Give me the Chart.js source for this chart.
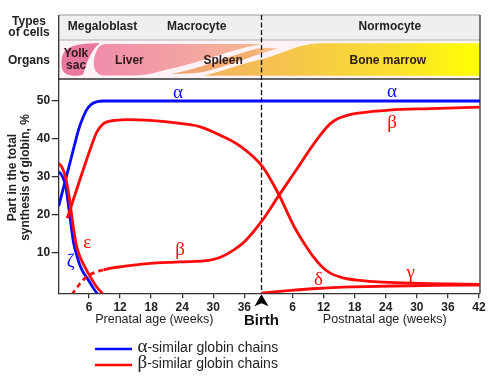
<!DOCTYPE html>
<html>
<head>
<meta charset="utf-8">
<script src="https://cdn.jsdelivr.net/npm/chart.js@4.4.1/dist/chart.umd.min.js"></script>
<style>
html,body{margin:0;padding:0;background:#fff;}
canvas{display:block;}
</style>
</head>
<body>
<canvas id="chart" width="500" height="382"></canvas>
<script>
// ---------------- data (x = age in weeks counted from conception, birth at BIRTH) ----------------
const BIRTH = 39.3;
const prenatalTickLabels = [6, 12, 18, 24, 30, 36];
const postnatalTickLabels = [6, 12, 18, 24, 30, 36, 42];
const yTickValues = [10, 20, 30, 40, 50];

const alphaAge = [0.15, 1, 2, 3, 4, 4.8, 5.6, 6.5, 7.5, 8.8, 10, 40, 81.5];
const alphaPct = [22.3, 26.8, 32, 37.3, 42.5, 45.5, 47.8, 49.2, 49.8, 50, 50, 50, 50];

const zetaAge = [0.15, 0.8, 1.5, 2.2, 3.0, 3.6, 4.3, 5.0, 5.9, 6.8, 7.7];
const zetaPct = [31.4, 30.3, 27.5, 20.8, 12.8, 9.5, 6.5, 4.6, 2.8, 0.8, -1];

const epsilonAge = [0.15, 0.8, 1.5, 2.2, 3.0, 3.6, 4.3, 5.2, 6.2, 7.5, 8.8];
const epsilonPct = [33.6, 32.5, 29.8, 24.5, 16.5, 11.8, 8.8, 6.3, 3.8, 1.0, -1];

const gammaAge = [1.8, 3, 4.3, 5.5, 6.5, 7.5, 8.5, 9.5, 11, 13.5, 17.8, 23.6, 27.5, 31.3, 35.3, 39.5, 42.6, 45.5, 47.5, 49.3, 50.8, 52.5, 55, 57.7, 64, 72, 81.5];
const gammaPct = [19.1, 24.1, 29.5, 34.4, 38.3, 41.8, 43.7, 44.5, 44.9, 45.1, 44.9, 44.1, 43.2, 41, 38, 32.7, 25.5, 17.2, 12.6, 9.0, 6.6, 4.7, 3.4, 2.8, 2.2, 1.9, 1.7];

const betaEarlyAge = [2.7, 4.26, 5.56, 7.5, 8.8];
const betaEarlyPct = [-1, 1.9, 3.7, 5.0, 5.5];

const betaAge = [8.8, 10.5, 12, 15, 17.8, 23.6, 29.4, 31.5, 33.9, 36, 39.5, 42.6, 46, 49, 51, 52.5, 54, 56, 58, 64, 72, 81.5];
const betaPct = [5.5, 6.0, 6.3, 6.8, 7.2, 7.6, 8.1, 8.9, 10.7, 12.9, 18.6, 25.0, 31.8, 37.9, 41.6, 43.9, 45.3, 46.3, 46.8, 47.6, 48, 48.4];

const deltaAge = [39.3, 45, 50, 57, 65, 73, 81.5];
const deltaPct = [-0.6, 0.1, 0.6, 1.0, 1.25, 1.4, 1.5];

const greekText  = ['α', 'α', 'β', 'β', 'ε', 'ζ', 'γ', 'δ'];
const greekAge   = [23.2, 64.5, 64.5, 23.6, 5.67, 2.47, 68.1, 50.3];
const greekPct   = [52.2, 52.5, 44.1, 10.7, 12.5, 7.6, 4.7, 2.8];
const greekIsAlphaFamily = [true, true, false, false, false, true, false, false];

const cellTypes = ['Megaloblast', 'Macrocyte', 'Normocyte'];
const cellTypeAge = [8.6, 26.8, 64.1];
const organNames = ['Liver', 'Spleen', 'Bone marrow'];
const organAge = [13.8, 31.9, 63.7];

const legendLabels = ['-similar globin chains', '-similar globin chains'];
const legendGreek = ['α', 'β'];

// ---------------- styles ----------------
const BLUE = '#0a0aff';
const RED = '#ff0a0a';
const AXIS = '#333333';
const TXT = '#222222';
const SANS = '"Liberation Sans", Arial, sans-serif';
const SERIF = '"Liberation Serif", "Times New Roman", serif';

const xTickValues = prenatalTickLabels.concat(postnatalTickLabels.map(w => BIRTH + w));
const xTickLabels = prenatalTickLabels.concat(postnatalTickLabels).map(String);

function pts(ax, ay) { return ax.map((a, i) => ({x: a, y: ay[i]})); }
function ds(ax, ay, color, dash) {
  return {data: pts(ax, ay), borderColor: color, backgroundColor: color, borderWidth: 2.8,
          pointRadius: 0, fill: false, cubicInterpolationMode: 'monotone', borderDash: dash || [],
          borderCapStyle: 'butt'};
}

const decor = {
  id: 'decor',
  beforeDraw(chart) {
    const ctx = chart.ctx, ca = chart.chartArea, xs = chart.scales.x;
    const X = v => xs.getPixelForValue(v);
    const L = ca.left, R = ca.right;
    const T1 = 15, T2 = 40, T3 = ca.top;
    ctx.save();
    ctx.fillStyle = '#fff';
    ctx.fillRect(0, 0, chart.width, chart.height);
    ctx.fillStyle = '#efefef';
    ctx.fillRect(L, T1, R - L, T2 - T1);
    ctx.fillStyle = '#fdf3f6';
    ctx.fillRect(L, T2, R - L, T3 - T2);

    // bone marrow
    let g = ctx.createLinearGradient(X(26), 0, X(81.5), 0);
    g.addColorStop(0, '#f1b266');
    g.addColorStop(0.3, '#f5c24e');
    g.addColorStop(0.7, '#f9df30');
    g.addColorStop(1, '#ffff00');
    ctx.beginPath();
    ctx.moveTo(X(26.5), 76.5);
    ctx.lineTo(X(81.5), 76.5);
    ctx.lineTo(X(81.5), 42.5);
    ctx.lineTo(X(50.6), 42.5);
    ctx.bezierCurveTo(X(46), 42.5, X(43), 55, X(38.1), 60);
    ctx.bezierCurveTo(X(34), 65, X(30), 74, X(26.5), 76.5);
    ctx.closePath();
    ctx.fillStyle = g; ctx.fill();
    ctx.strokeStyle = '#fdf3f6'; ctx.lineWidth = 1.6; ctx.stroke();

    // spleen
    g = ctx.createLinearGradient(X(20), 0, X(43.5), 0);
    g.addColorStop(0, '#f0a276');
    g.addColorStop(0.7, '#f3ae6c');
    g.addColorStop(1, '#f7cba0');
    ctx.beginPath();
    ctx.moveTo(X(20.3), 74);
    ctx.bezierCurveTo(X(26), 71, X(33), 55, X(38.6), 47.5);
    ctx.quadraticCurveTo(X(41), 46, X(43.4), 48.5);
    ctx.bezierCurveTo(X(39), 53, X(34), 66, X(28), 73);
    ctx.quadraticCurveTo(X(25), 75.8, X(20.3), 74);
    ctx.closePath();
    ctx.fillStyle = g; ctx.fill();
    ctx.lineWidth = 1.8; ctx.stroke();

    // liver
    g = ctx.createLinearGradient(X(7), 0, X(41.5), 0);
    g.addColorStop(0, '#f08cab');
    g.addColorStop(0.45, '#f3a0a4');
    g.addColorStop(1, '#f6bd90');
    ctx.beginPath();
    ctx.moveTo(X(9.3), 43);
    ctx.lineTo(X(39.4), 43);
    ctx.quadraticCurveTo(X(41), 43.2, X(41.5), 44.2);
    ctx.bezierCurveTo(X(36), 45, X(30), 60, X(21.5), 70);
    ctx.bezierCurveTo(X(19.5), 72.5, X(18), 76, X(15), 76.3);
    ctx.lineTo(X(8.6), 76.3);
    ctx.bezierCurveTo(X(6.3), 74, X(6.6), 60, X(7.2), 52);
    ctx.bezierCurveTo(X(7.6), 46, X(8.3), 43, X(9.3), 43);
    ctx.closePath();
    ctx.fillStyle = g; ctx.fill();
    ctx.lineWidth = 1.8; ctx.stroke();

    // yolk sac
    ctx.beginPath();
    ctx.moveTo(X(8.1), 43);
    ctx.bezierCurveTo(X(6.5), 50, X(5.5), 62, X(4.9), 74.5);
    ctx.bezierCurveTo(X(3.5), 77, X(0.8), 77, X(0.7), 66);
    ctx.bezierCurveTo(X(0.6), 50, X(1.5), 43.5, X(8.1), 43);
    ctx.closePath();
    ctx.fillStyle = '#e9789d'; ctx.fill();

    // header borders
    ctx.lineWidth = 1.2;
    ctx.strokeStyle = '#9a9a9a';
    ctx.beginPath(); ctx.moveTo(L, T1); ctx.lineTo(R, T1); ctx.stroke();
    ctx.strokeStyle = '#b0b0b0';
    ctx.beginPath(); ctx.moveTo(L, T2); ctx.lineTo(R, T2); ctx.stroke();
    ctx.strokeStyle = AXIS;
    ctx.lineWidth = 1.3;
    ctx.beginPath(); ctx.moveTo(L, T1); ctx.lineTo(L, T3); ctx.stroke();
    ctx.beginPath(); ctx.moveTo(R, T1); ctx.lineTo(R, ca.bottom); ctx.stroke();
    ctx.beginPath(); ctx.moveTo(L, T3); ctx.lineTo(R, T3); ctx.stroke();

    // header texts
    ctx.fillStyle = TXT;
    ctx.font = 'bold 12px ' + SANS;
    ctx.textAlign = 'center'; ctx.textBaseline = 'middle';
    cellTypes.forEach((t, i) => ctx.fillText(t, X(cellTypeAge[i]), 26.5));
    ctx.fillText('Types', 29, 21.5);
    ctx.fillText('of cells', 29, 33);
    ctx.fillText('Organs', 29, 61);
    ctx.fillStyle = '#2a1a1a';
    organNames.forEach((t, i) => ctx.fillText(t, X(organAge[i]), 60.5));
    ctx.fillText('Yolk', X(3.5), 53.5);
    ctx.fillText('sac', X(3.5), 65.5);
    ctx.restore();
  },
  beforeDatasetsDraw(chart) {
    const ctx = chart.ctx, ca = chart.chartArea, xs = chart.scales.x;
    const bx = Math.round(xs.getPixelForValue(BIRTH)) + 0.5;
    ctx.save();
    ctx.strokeStyle = '#111';
    ctx.lineWidth = 1.3;
    ctx.setLineDash([5, 2.5]);
    ctx.beginPath(); ctx.moveTo(bx, 15); ctx.lineTo(bx, ca.bottom); ctx.stroke();
    ctx.restore();
  },
  afterDraw(chart) {
    const ctx = chart.ctx, ca = chart.chartArea, xs = chart.scales.x, ys = chart.scales.y;
    ctx.save();
    // greek labels
    ctx.font = '19px ' + SERIF;
    ctx.textAlign = 'center'; ctx.textBaseline = 'middle';
    greekText.forEach((t, i) => {
      ctx.fillStyle = greekIsAlphaFamily[i] ? BLUE : RED;
      ctx.fillText(t, xs.getPixelForValue(greekAge[i]), ys.getPixelForValue(greekPct[i]));
    });
    // birth marker
    const bx = Math.round(xs.getPixelForValue(BIRTH)) + 0.5;
    ctx.fillStyle = '#000';
    ctx.beginPath();
    ctx.moveTo(bx, ca.bottom + 1);
    ctx.lineTo(bx + 7, ca.bottom + 13);
    ctx.lineTo(bx, ca.bottom + 10);
    ctx.lineTo(bx - 7, ca.bottom + 13);
    ctx.closePath(); ctx.fill();
    ctx.fillStyle = '#111';
    ctx.font = 'bold 15px ' + SANS;
    ctx.fillText('Birth', bx, 321);
    ctx.fillStyle = TXT;
    ctx.font = '12.5px ' + SANS;
    ctx.fillText('Prenatal age (weeks)', xs.getPixelForValue(18.6), 320);
    ctx.fillText('Postnatal age (weeks)', xs.getPixelForValue(BIRTH + 23.8), 320);
    // y title
    ctx.save();
    ctx.translate(13, 177.5);
    ctx.rotate(-Math.PI / 2);
    ctx.font = 'bold 12px ' + SANS;
    ctx.fillText('Part in the total', 0, 0);
    ctx.fillText('synthesis of globin, %', 0, 13);
    ctx.restore();
    // legend
    const lc = [BLUE, RED];
    [349, 365].forEach((y, i) => {
      ctx.strokeStyle = lc[i]; ctx.lineWidth = 2.6;
      ctx.beginPath(); ctx.moveTo(95, y); ctx.lineTo(132, y); ctx.stroke();
      ctx.textAlign = 'left';
      ctx.fillStyle = TXT;
      ctx.font = '19px ' + SERIF;
      ctx.fillText(legendGreek[i], 137.5, y - 1.5);
      const gw = ctx.measureText(legendGreek[i]).width;
      ctx.font = '14px ' + SANS;
      ctx.fillText(legendLabels[i], 137.5 + gw, y - 1);
    });
    ctx.restore();
  }
};

Chart.defaults.font.family = SANS;
new Chart(document.getElementById('chart'), {
  type: 'line',
  data: {
    datasets: [
      ds(betaEarlyAge, betaEarlyPct, RED, [5, 4]),
      ds(betaAge, betaPct, RED),
      ds(deltaAge, deltaPct, RED),
      ds(gammaAge, gammaPct, RED),
      ds(epsilonAge, epsilonPct, RED),
      ds(zetaAge, zetaPct, BLUE),
      ds(alphaAge, alphaPct, BLUE)
    ]
  },
  options: {
    responsive: false,
    animation: false,
    devicePixelRatio: 1,
    layout: {padding: {top: 79, right: 20, bottom: 0, left: 0}},
    plugins: {legend: {display: false}, tooltip: {enabled: false}, title: {display: false}},
    scales: {
      x: {
        type: 'linear', min: 0.15, max: 81.5,
        afterBuildTicks(s) { s.ticks = xTickValues.map(v => ({value: v})); },
        afterFit(s) { s.height = 88.7; },
        ticks: {autoSkip: false, maxRotation: 0, minRotation: 0, padding: 2, color: TXT,
                font: {weight: 'bold', size: 12}, callback: (v, i) => xTickLabels[i]},
        grid: {drawOnChartArea: false, drawTicks: true, tickLength: 5, color: AXIS, lineWidth: 1.3},
        border: {display: true, color: AXIS, width: 1.3}
      },
      y: {
        type: 'linear', min: -0.67, max: 55.8,
        afterBuildTicks(s) { s.ticks = yTickValues.map(v => ({value: v})); },
        afterFit(s) { s.width = 58.7; },
        ticks: {padding: 1.5, color: TXT, font: {weight: 'bold', size: 12}, callback: v => String(v)},
        grid: {drawOnChartArea: false, drawTicks: true, tickLength: 7, color: AXIS, lineWidth: 1.3},
        border: {display: true, color: AXIS, width: 1.3}
      }
    }
  },
  plugins: [decor]
});
</script>
</body>
</html>
